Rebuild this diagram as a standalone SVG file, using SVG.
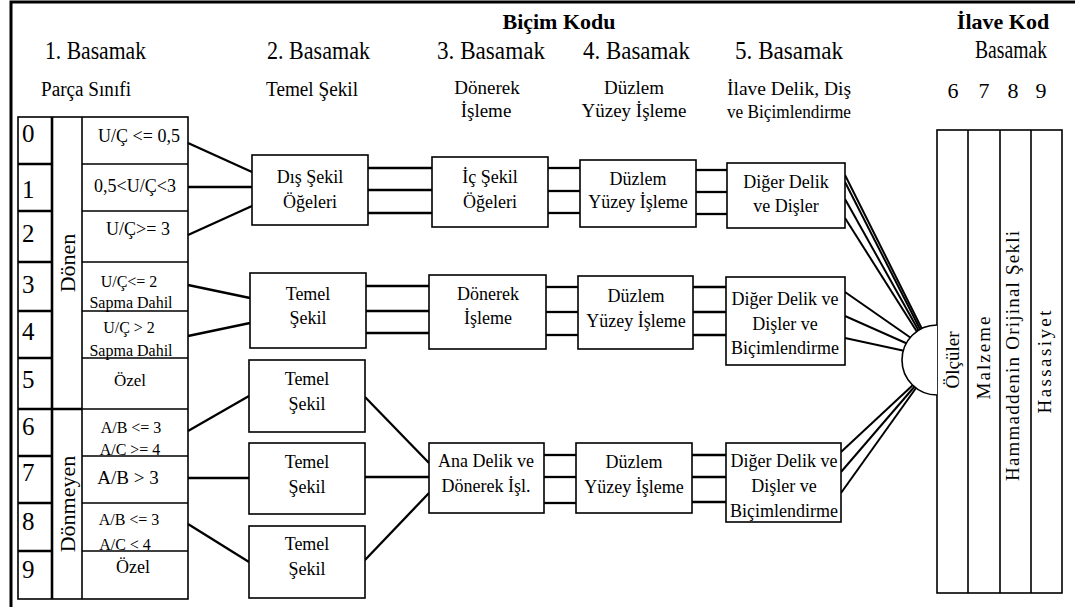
<svg xmlns="http://www.w3.org/2000/svg" width="1075" height="607" viewBox="0 0 1075 607" font-family="'Liberation Serif', 'DejaVu Serif', serif">
  <style>
    .t { font-family: "Liberation Serif", "DejaVu Serif", serif; fill: #000; }
    .b { font-weight: bold; }
    .box { fill: #fff; stroke: #000; stroke-width: 1.6; }
    .ln { stroke: #000; stroke-width: 1.6; fill: none; }
    .thk { stroke: #000; stroke-width: 2.6; fill: none; }
    .conn line { stroke: #000; stroke-width: 2.3; }
    .fan line { stroke: #000; stroke-width: 2; }
    .bx { font-size: 18px; text-anchor: middle; }
    .cd { text-anchor: middle; }
  </style>
  <rect width="1075" height="607" fill="#fff"/>

  <!-- frame -->
  <path d="M11,607 V2 H1075" stroke="#000" stroke-width="3" fill="none"/>

  <!-- headings -->
  <g id="headings" class="t">
    <text class="b" x="559" y="29" font-size="22" text-anchor="middle">Biçim Kodu</text>
    <text class="b" x="1003" y="29" font-size="22" text-anchor="middle">İlave Kod</text>
    <text x="45" y="59" font-size="26" textLength="101" lengthAdjust="spacingAndGlyphs">1. Basamak</text>
    <text x="267" y="59" font-size="26" textLength="103" lengthAdjust="spacingAndGlyphs">2. Basamak</text>
    <text x="437" y="59" font-size="26" textLength="108" lengthAdjust="spacingAndGlyphs">3. Basamak</text>
    <text x="583" y="59" font-size="26" textLength="107" lengthAdjust="spacingAndGlyphs">4. Basamak</text>
    <text x="735" y="59" font-size="26" textLength="108" lengthAdjust="spacingAndGlyphs">5. Basamak</text>
    <text x="975" y="58" font-size="26" textLength="72" lengthAdjust="spacingAndGlyphs">Basamak</text>
    <text x="41" y="96" font-size="20" textLength="90" lengthAdjust="spacingAndGlyphs">Parça Sınıfi</text>
    <text x="266" y="96" font-size="20" textLength="92" lengthAdjust="spacingAndGlyphs">Temel Şekil</text>
    <text x="487" y="94" font-size="19" text-anchor="middle">Dönerek</text>
    <text x="486" y="117" font-size="19" text-anchor="middle">İşleme</text>
    <text x="634" y="94" font-size="19" text-anchor="middle">Düzlem</text>
    <text x="634" y="117" font-size="19" text-anchor="middle">Yüzey İşleme</text>
    <text x="727" y="95" font-size="19" textLength="124" lengthAdjust="spacingAndGlyphs">İlave Delik, Diş</text>
    <text x="727" y="118" font-size="19" textLength="124" lengthAdjust="spacingAndGlyphs">ve Biçimlendirme</text>
    <text x="953" y="98" font-size="22" text-anchor="middle">6</text>
    <text x="984" y="98" font-size="22" text-anchor="middle">7</text>
    <text x="1013" y="98" font-size="22" text-anchor="middle">8</text>
    <text x="1041" y="98" font-size="22" text-anchor="middle">9</text>
  </g>

  <!-- part class table: digits, rotating / non-rotating, conditions -->
  <g id="parca-sinifi">
    <rect x="18" y="117" width="170" height="482" class="box"/>
    <line class="thk" x1="52" y1="117" x2="52" y2="599"/>
    <line class="ln" x1="82" y1="117" x2="82" y2="599"/>
    <path class="thk" d="M18,164 H52 M18,211 H52 M18,262 H52 M18,311 H52 M18,358 H52 M18,409 H82 M18,456 H52 M18,503 H52 M18,551 H52"/>
    <path class="ln" d="M82,164 H188 M82,211 H188 M82,262 H188 M82,311 H188 M82,358 H188 M82,409 H188 M82,456 H188 M82,503 H188 M82,551 H188"/>
    <g class="t" font-size="25">
      <text x="22" y="142">0</text>
      <text x="22" y="198">1</text>
      <text x="22" y="242">2</text>
      <text x="22" y="293">3</text>
      <text x="22" y="340">4</text>
      <text x="22" y="388">5</text>
      <text x="22" y="435">6</text>
      <text x="22" y="481">7</text>
      <text x="22" y="530">8</text>
      <text x="22" y="578">9</text>
    </g>
    <text class="t" font-size="22" transform="translate(75,263) rotate(-90)" text-anchor="middle">Dönen</text>
    <text class="t" font-size="22" transform="translate(75,504) rotate(-90)" text-anchor="middle">Dönmeyen</text>
    <g class="t cd">
      <text x="139" y="142" font-size="18">U/Ç &lt;= 0,5</text>
      <text x="135" y="192" font-size="18">0,5&lt;U/Ç&lt;3</text>
      <text x="138" y="235" font-size="18">U/Ç&gt;= 3</text>
      <text x="129" y="287" font-size="16">U/Ç&lt;= 2</text>
      <text x="131" y="308" font-size="16">Sapma Dahil</text>
      <text x="129" y="333" font-size="16">U/Ç &gt; 2</text>
      <text x="131" y="356" font-size="16">Sapma Dahil</text>
      <text x="130" y="386" font-size="17">Özel</text>
      <text x="131" y="433" font-size="16">A/B &lt;= 3</text>
      <text x="130" y="455" font-size="16">A/C &gt;= 4</text>
      <text x="128" y="484" font-size="19">A/B &gt; 3</text>
      <text x="129" y="525" font-size="16">A/B &lt;= 3</text>
      <text x="125" y="550" font-size="16">A/C &lt; 4</text>
      <text x="133" y="573" font-size="18">Özel</text>
    </g>
  </g>

  <!-- connectors -->
  <g id="connectors">
    <g class="conn">
      <!-- table to basic shape boxes -->
      <line x1="188" y1="143" x2="252" y2="172"/>
      <line x1="188" y1="187" x2="252" y2="187"/>
      <line x1="188" y1="235" x2="252" y2="206"/>
      <line x1="188" y1="285" x2="250" y2="298"/>
      <line x1="188" y1="336" x2="250" y2="323"/>
      <line x1="188" y1="431" x2="249" y2="396"/>
      <line x1="188" y1="478" x2="249" y2="478"/>
      <line x1="188" y1="524" x2="249" y2="562"/>
      <!-- basic shapes into main bore box -->
      <line x1="365" y1="397" x2="429" y2="463"/>
      <line x1="365" y1="477" x2="429" y2="477"/>
      <line x1="365" y1="560" x2="429" y2="493"/>
      <!-- row 1 triple links -->
      <line x1="368" y1="168" x2="432" y2="168"/>
      <line x1="368" y1="190" x2="432" y2="190"/>
      <line x1="368" y1="213" x2="432" y2="213"/>
      <line x1="548" y1="168" x2="580" y2="168"/>
      <line x1="548" y1="191" x2="580" y2="191"/>
      <line x1="548" y1="213" x2="580" y2="213"/>
      <line x1="696" y1="170" x2="727" y2="170"/>
      <line x1="696" y1="192" x2="727" y2="192"/>
      <line x1="696" y1="214" x2="727" y2="214"/>
      <!-- row 2 triple links -->
      <line x1="366" y1="286" x2="429" y2="286"/>
      <line x1="366" y1="311" x2="429" y2="311"/>
      <line x1="366" y1="333" x2="429" y2="333"/>
      <line x1="546" y1="287" x2="578" y2="287"/>
      <line x1="546" y1="312" x2="578" y2="312"/>
      <line x1="546" y1="335" x2="578" y2="335"/>
      <line x1="693" y1="287" x2="726" y2="287"/>
      <line x1="693" y1="312" x2="726" y2="312"/>
      <line x1="693" y1="335" x2="726" y2="335"/>
      <!-- row 3 triple links -->
      <line x1="544" y1="455" x2="576" y2="455"/>
      <line x1="544" y1="477" x2="576" y2="477"/>
      <line x1="544" y1="503" x2="576" y2="503"/>
      <line x1="692" y1="455" x2="726" y2="455"/>
      <line x1="692" y1="477" x2="726" y2="477"/>
      <line x1="692" y1="502" x2="726" y2="502"/>
    </g>
    <g class="fan">
      <line x1="845" y1="175" x2="922" y2="329"/>
      <line x1="845" y1="182" x2="921" y2="331"/>
      <line x1="845" y1="199" x2="920" y2="333"/>
      <line x1="845" y1="218" x2="919" y2="335"/>
      <line x1="845" y1="292" x2="911" y2="338"/>
      <line x1="845" y1="316" x2="908" y2="344"/>
      <line x1="845" y1="338" x2="905" y2="351"/>
      <line x1="841" y1="452" x2="914" y2="384"/>
      <line x1="841" y1="472" x2="915" y2="386"/>
      <line x1="841" y1="493" x2="916" y2="388"/>
    </g>
  </g>

  <!-- form code boxes -->
  <g id="dis-sekil" class="t">
    <rect class="box" x="252" y="155" width="116" height="70"/>
    <text class="bx" x="310" y="183">Dış Şekil</text>
    <text class="bx" x="310" y="208">Öğeleri</text>
  </g>
  <g id="ic-sekil" class="t">
    <rect class="box" x="432" y="157" width="116" height="70"/>
    <text class="bx" x="490" y="183">İç Şekil</text>
    <text class="bx" x="490" y="208">Öğeleri</text>
  </g>
  <g id="duzlem-1" class="t">
    <rect class="box" x="580" y="160" width="116" height="67"/>
    <text class="bx" x="638" y="185">Düzlem</text>
    <text class="bx" x="638" y="208">Yüzey İşleme</text>
  </g>
  <g id="diger-1" class="t">
    <rect class="box" x="727" y="163" width="118" height="65"/>
    <text class="bx" x="786" y="188">Diğer Delik</text>
    <text class="bx" x="786" y="212">ve Dişler</text>
  </g>

  <g id="temel-1" class="t">
    <rect class="box" x="250" y="273" width="116" height="75"/>
    <text class="bx" x="308" y="300">Temel</text>
    <text class="bx" x="308" y="324">Şekil</text>
  </g>
  <g id="donerek" class="t">
    <rect class="box" x="429" y="275" width="117" height="74"/>
    <text class="bx" x="488" y="300">Dönerek</text>
    <text class="bx" x="488" y="324">İşleme</text>
  </g>
  <g id="duzlem-2" class="t">
    <rect class="box" x="578" y="276" width="115" height="73"/>
    <text class="bx" x="636" y="302">Düzlem</text>
    <text class="bx" x="636" y="327">Yüzey İşleme</text>
  </g>
  <g id="diger-2" class="t">
    <rect class="box" x="726" y="277" width="119" height="88"/>
    <text class="bx" x="785" y="305">Diğer Delik ve</text>
    <text class="bx" x="785" y="330">Dişler ve</text>
    <text class="bx" x="785" y="354">Biçimlendirme</text>
  </g>

  <g id="temel-2" class="t">
    <rect class="box" x="249" y="360" width="116" height="72"/>
    <text class="bx" x="307" y="385">Temel</text>
    <text class="bx" x="307" y="410">Şekil</text>
  </g>
  <g id="temel-3" class="t">
    <rect class="box" x="249" y="443" width="116" height="71"/>
    <text class="bx" x="307" y="468">Temel</text>
    <text class="bx" x="307" y="493">Şekil</text>
  </g>
  <g id="temel-4" class="t">
    <rect class="box" x="249" y="526" width="116" height="72"/>
    <text class="bx" x="307" y="550">Temel</text>
    <text class="bx" x="307" y="575">Şekil</text>
  </g>
  <g id="ana-delik" class="t">
    <rect class="box" x="429" y="443" width="115" height="70"/>
    <text class="bx" x="486" y="467" font-size="19">Ana Delik ve</text>
    <text class="bx" x="486" y="492" font-size="19">Dönerek İşl.</text>
  </g>
  <g id="duzlem-3" class="t">
    <rect class="box" x="576" y="443" width="116" height="70"/>
    <text class="bx" x="634" y="468">Düzlem</text>
    <text class="bx" x="634" y="493">Yüzey İşleme</text>
  </g>
  <g id="diger-3" class="t">
    <rect class="box" x="726" y="443" width="115" height="79"/>
    <text class="bx" x="784" y="467">Diğer Delik ve</text>
    <text class="bx" x="784" y="492">Dişler ve</text>
    <text class="bx" x="784" y="517">Biçimlendirme</text>
  </g>

  <!-- supplementary code -->
  <g id="ilave-kod" class="t">
    <rect class="box" x="937" y="130" width="125" height="463"/>
    <path class="ln" d="M968,130 V593 M1000,130 V593 M1031,130 V593"/>
    <path class="box" d="M937,325 A35,35 0 0 0 937,395"/>
    <text font-size="19" text-anchor="middle" transform="translate(959,360) rotate(-90)">Ölçüler</text>
    <text font-size="19" text-anchor="middle" transform="translate(990,358) rotate(-90)" textLength="83" lengthAdjust="spacing">Malzeme</text>
    <text font-size="19" text-anchor="middle" transform="translate(1019,356) rotate(-90)" textLength="250" lengthAdjust="spacing">Hammaddenin Orijinal Şekli</text>
    <text font-size="19" text-anchor="middle" transform="translate(1051,362) rotate(-90)" textLength="103" lengthAdjust="spacing">Hassasiyet</text>
  </g>
</svg>
